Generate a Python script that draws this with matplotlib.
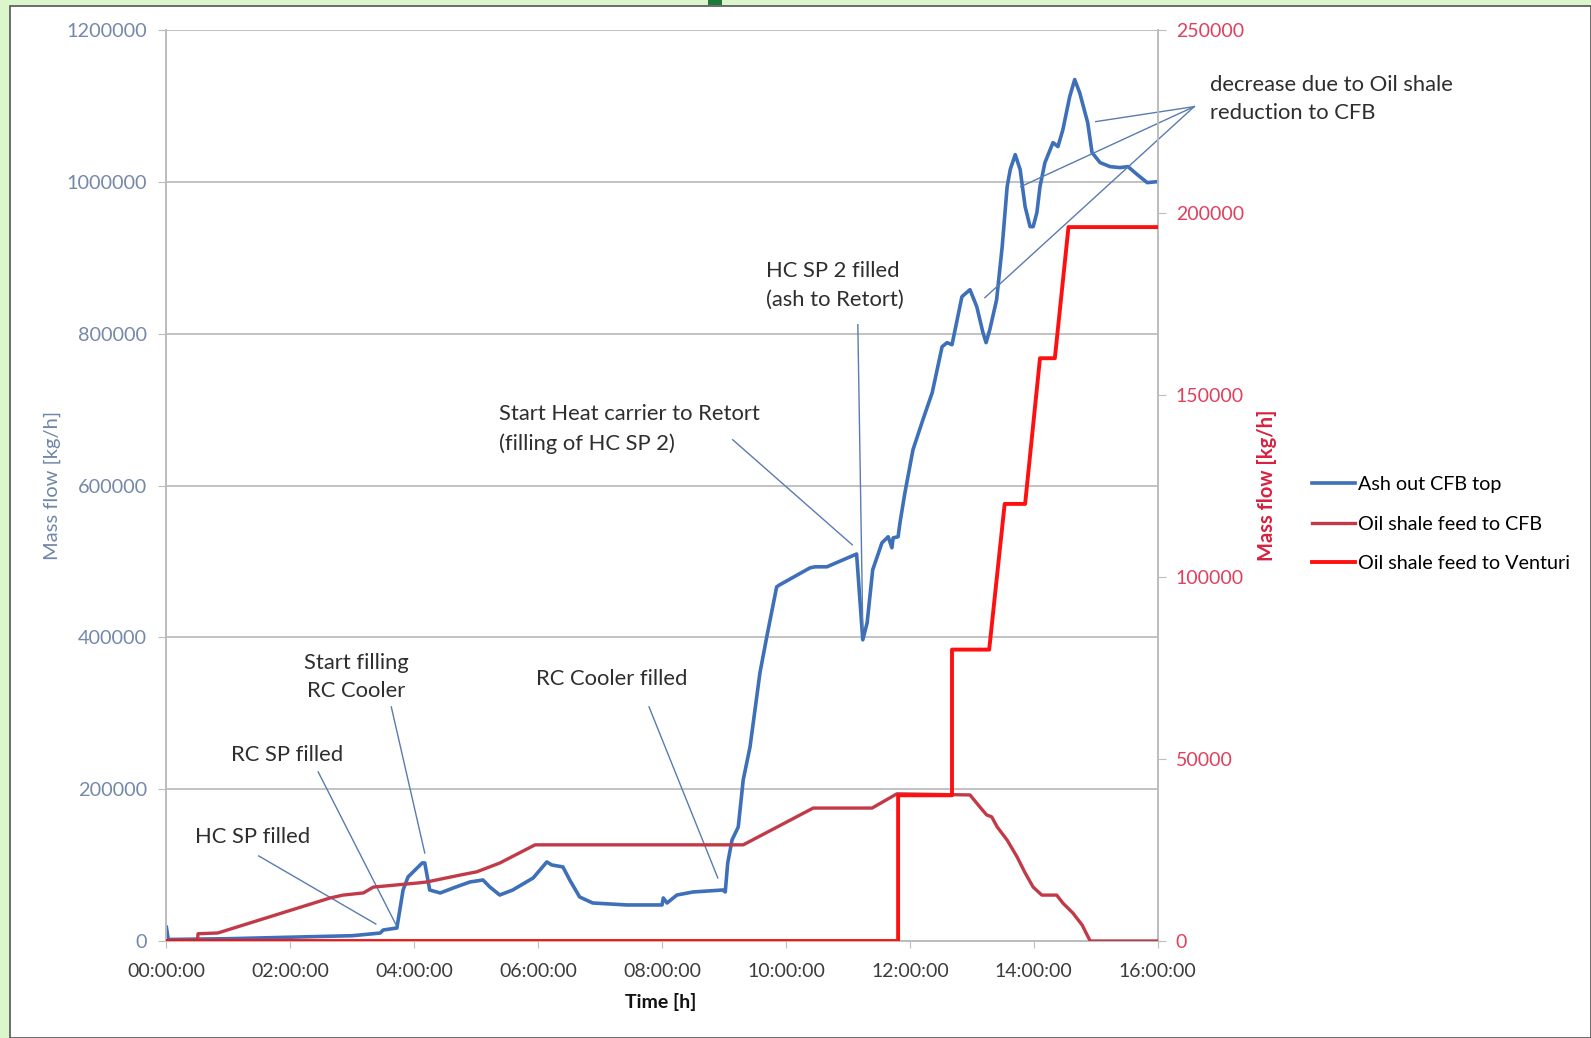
import matplotlib
matplotlib.use("Agg")
import matplotlib.pyplot as plt
from matplotlib.patches import Rectangle
from matplotlib.ticker import FixedLocator, FuncFormatter

# ---- series data (time in hours, mass flow in kg/h) ----
ash_t = [0.00, 0.03, 1.0, 2.0, 3.0, 3.12, 3.45, 3.50, 3.72, 3.82, 3.90, 4.13, 4.17, 4.25,
         4.42, 4.63, 4.90, 5.11, 5.22, 5.38, 5.59, 5.92, 6.14, 6.22, 6.40, 6.51, 6.67,
         6.88, 7.43, 8.00, 8.02, 8.08, 8.24, 8.50, 8.98, 9.02, 9.06, 9.13, 9.23, 9.31,
         9.42, 9.58, 9.69, 9.85, 9.90, 10.39, 10.47, 10.66, 11.11, 11.14, 11.24, 11.31,
         11.40, 11.55, 11.65, 11.71, 11.73, 11.81, 11.84, 11.92, 12.05, 12.21, 12.36,
         12.52, 12.60, 12.68, 12.84, 12.97, 13.08, 13.18, 13.23, 13.29, 13.40, 13.49,
         13.57, 13.62, 13.70, 13.78, 13.86, 13.94, 13.99, 14.05, 14.10, 14.18, 14.31,
         14.39, 14.47, 14.58, 14.66, 14.74, 14.87, 14.94, 15.07, 15.23, 15.39, 15.52,
         15.67, 15.83, 16.00]
ash_v = [18000, 2000, 3000, 5000, 7000, 7900, 10500, 14500, 17100, 67200, 84400, 102900,
         102900, 67200, 63300, 69900, 77800, 80400, 71200, 60600, 67200, 83100, 104200,
         100200, 97600, 80400, 58000, 50100, 47500, 47500, 56700, 50100, 60600, 64600,
         67200, 64600, 102900, 133200, 150300, 212300, 255800, 353400, 400800, 466700,
         469400, 491800, 493100, 493100, 508900, 510000, 396900, 419300, 489200, 524800,
         532700, 518200, 531300, 532700, 551100, 590700, 647400, 686900, 722500, 783200,
         788500, 785800, 849100, 858300, 835900, 801600, 788500, 805600, 845100, 915000,
         994100, 1016600, 1036300, 1016600, 967800, 941400, 941400, 959900, 994100,
         1025800, 1052100, 1046900, 1069300, 1112800, 1135200, 1118100, 1078500, 1039000,
         1025800, 1020500, 1019200, 1020500, 1010000, 999400, 1000700]

cfb_t = [0.00, 0.50, 0.51, 0.83, 2.64, 2.85, 3.18, 3.34, 3.72, 4.04, 4.20, 4.74, 5.01,
         5.38, 5.95, 9.31, 10.44, 11.39, 11.79, 12.97, 13.13, 13.24, 13.32, 13.41, 13.57,
         13.73, 13.86, 13.99, 14.13, 14.37, 14.47, 14.63, 14.78, 14.91, 16.00]
cfb_v = [0, 0, 2000, 2200, 11800, 12600, 13200, 14800, 15400, 15900, 16200, 18100, 19000,
         21400, 26400, 26400, 36500, 36500, 40400, 40100, 36800, 34600, 34100, 31300, 27700,
         23100, 18700, 14800, 12600, 12600, 10400, 7700, 4400, 0, 0]

venturi_t = [0.00, 11.81, 11.81, 12.68, 12.68, 13.28, 13.53, 13.86, 14.10, 14.34, 14.56, 16.00]
venturi_v = [0, 0, 40000, 40000, 80000, 80000, 120000, 120000, 160000, 160000, 196000, 196000]

left_ticks = [0, 200000, 400000, 600000, 800000, 1000000, 1200000]
right_ticks = [0, 50000, 100000, 150000, 200000, 250000]
x_ticks = [0, 2, 4, 6, 8, 10, 12, 14, 16]

series_labels = ["Ash out CFB top", "Oil shale feed to CFB", "Oil shale feed to Venturi"]

# notes: (text, centre position in px from top-left, horizontal alignment)
notes = [
    ("decrease due to Oil shale\nreduction to CFB", (1210, 99), "left"),
    ("HC SP 2 filled\n(ash to Retort)", (766, 285), "left"),
    ("Start Heat carrier to Retort\n(filling of HC SP 2)", (499, 429), "left"),
    ("Start filling\nRC Cooler", (356, 677), "center"),
    ("RC SP filled", (231, 755), "left"),
    ("HC SP filled", (195, 837), "left"),
    ("RC Cooler filled", (536, 679), "left"),
]
# leader lines in data coordinates (hours, kg/h)
leader_lines = [
    ((16.59, 1099600), (15.00, 1079800)),
    ((16.59, 1099600), (13.79, 994100)),
    ((16.59, 1099600), (13.21, 847800)),
    ((11.16, 812200), (11.24, 411400)),
    ((9.14, 660600), (11.07, 522100)),
    ((3.63, 308500), (4.17, 116000)),
    ((2.45, 222800), (3.70, 22400)),
    ((1.49, 112100), (3.38, 22400)),
    ((7.79, 308500), (8.90, 83100)),
]

W, H = 1591, 1038
plt.rcParams["font.family"] = ["Lato", "DejaVu Sans"]
fig = plt.figure(figsize=(W / 100, H / 100), dpi=100)
fig.patch.set_facecolor("#dcf6cc")
fig.patches.append(Rectangle((10 / W, 0), 1 - 10 / W, 1 - 6 / H, transform=fig.transFigure,
                             facecolor="white", edgecolor="#555555", linewidth=1.2, zorder=-5))
fig.patches.append(Rectangle((708 / W, 1 - 5 / H), 14 / W, 5 / H, transform=fig.transFigure,
                             facecolor="#1e7a3a", edgecolor="none", zorder=-4))

ax = fig.add_axes([166.4 / W, 1 - 941 / H, (1157.7 - 166.4) / W, (941 - 30.4) / H])
ax.set_facecolor("none")
ax2 = ax.twinx()

blue = "#3d70b8"
cfb_red = "#c23a48"
ven_red = "#ff1010"
grid_c = "#bdbdbd"

h1, = ax.plot(ash_t, ash_v, color=blue, lw=2.6, zorder=3)
l2, = ax2.plot(cfb_t, cfb_v, color=cfb_red, lw=2.4, zorder=3)
l3, = ax2.plot(venturi_t, venturi_v, color=ven_red, lw=2.8, zorder=4)

ax.set_xlim(0, 16)
ax.set_ylim(0, 1200000)
ax2.set_ylim(0, 250000)

ax.xaxis.set_major_locator(FixedLocator(x_ticks))
ax.xaxis.set_major_formatter(FuncFormatter(lambda v, p: f"{int(round(v)):02d}:00:00"))
ax.yaxis.set_major_locator(FixedLocator(left_ticks))
ax.yaxis.set_major_formatter(FuncFormatter(lambda v, p: f"{int(v)}"))
ax2.yaxis.set_major_locator(FixedLocator(right_ticks))
ax2.yaxis.set_major_formatter(FuncFormatter(lambda v, p: f"{int(v)}"))

ax.grid(axis="y", color=grid_c, lw=1.3)
ax.set_axisbelow(True)
for a in (ax, ax2):
    a.spines["top"].set_visible(False)
    for s in ("left", "right", "bottom"):
        a.spines[s].set_color(grid_c)
        a.spines[s].set_linewidth(1.3)

ax.tick_params(axis="x", colors=grid_c, labelcolor="#3c3c3c", labelsize=14, length=5, pad=11)
ax.tick_params(axis="y", colors=grid_c, labelcolor="#7489aa", labelsize=14.3, length=6, pad=8)
ax2.tick_params(axis="y", colors=grid_c, labelcolor="#e0405c", labelsize=14, length=6, pad=7)

ax.set_ylabel("Mass flow [kg/h]", color="#6f86a8", fontsize=14.5)
ax.yaxis.set_label_coords(-(166.4 - 61) / (1157.7 - 166.4), 0.5)
ax2.set_ylabel("Mass flow [kg/h]", color="#d8203e", fontsize=14.5, fontweight="bold")
ax2.yaxis.set_label_coords(1 + (1257 - 1157.7) / (1157.7 - 166.4), 0.5)
ax.set_xlabel("Time [h]", fontsize=14, fontweight="bold", color="#111111")
ax.xaxis.set_label_coords((661 - 166.4) / (1157.7 - 166.4), -(993 - 941) / (941 - 30.4))

# leader lines from the notes to the curve
for (p0, p1) in leader_lines:
    ax.plot([p0[0], p1[0]], [p0[1], p1[1]], color="#5a7bb0", lw=1.0, zorder=5, clip_on=False)

for text, (px, py), ha in notes:
    fig.text(px / W, 1 - py / H, text, ha=ha, va="center", fontsize=15.8,
             color="#2e2e2e", linespacing=1.55)

fig.legend([h1, l2, l3], series_labels, loc="center left",
           bbox_to_anchor=(1312 / W, 1 - 524 / H), frameon=False, fontsize=14.2,
           handlelength=2.2, handletextpad=0.15, labelspacing=1.15, borderaxespad=0,
           borderpad=0)

fig.savefig("out.png", dpi=100)
